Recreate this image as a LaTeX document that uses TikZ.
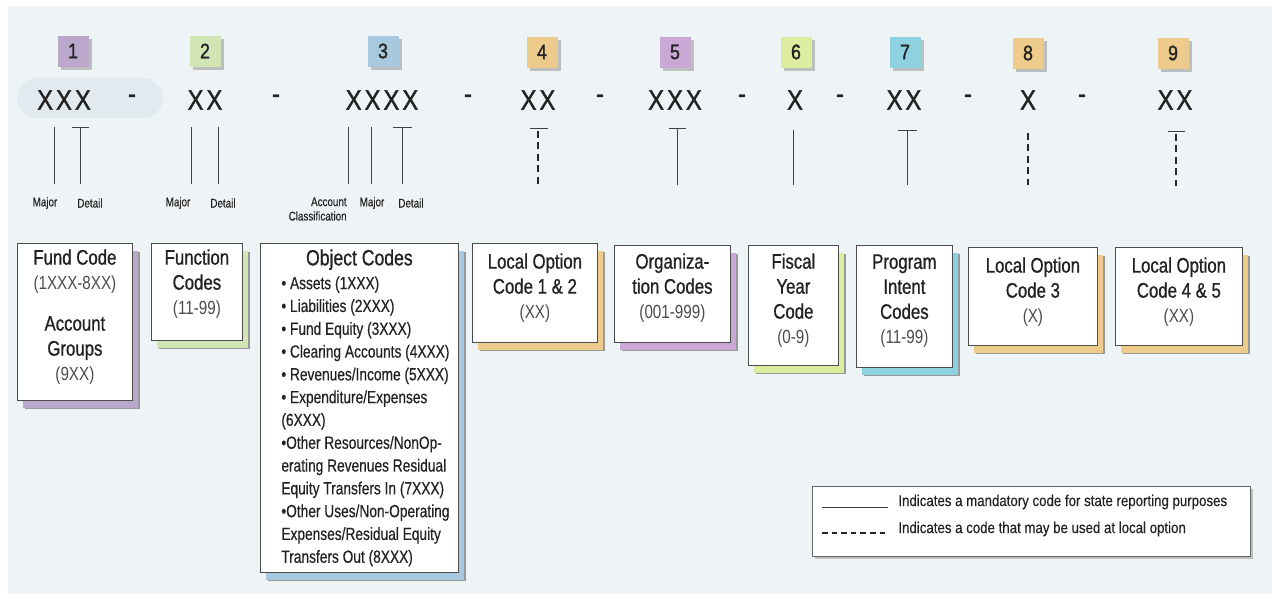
\documentclass[tikz,border=0pt]{standalone}
\usepackage{fontspec}
\setmainfont{Liberation Sans}
\newfontfamily\narrowfont{Liberation Sans}[FakeStretch=0.8]
\newfontfamily\headfont{Liberation Sans}[FakeStretch=0.8,FakeBold=0.8]
\newfontfamily\itemfont{Liberation Sans}[FakeStretch=0.78,FakeBold=0.4]
\newfontfamily\digitfont{Liberation Sans}[FakeStretch=0.85,FakeBold=1.2]
\newfontfamily\legendfont{Liberation Sans}[FakeStretch=0.85,FakeBold=0.3]
\usetikzlibrary{positioning,shadows}

\definecolor{bgcol}{HTML}{EEF4F5}
\definecolor{pillcol}{HTML}{E2EAF0}
\definecolor{purp}{HTML}{BBA6CC}
\definecolor{pinkish}{HTML}{C9A8D5}
\definecolor{sage}{HTML}{D2E5B4}
\definecolor{lime}{HTML}{DCEDA0}
\definecolor{sky}{HTML}{A9C9E0}
\definecolor{aqua}{HTML}{8ED2E2}
\definecolor{sand}{HTML}{EDCB8C}
\definecolor{ink}{HTML}{222222}

\newcommand{\rng}[1]{{\narrowfont\fontsize{9.5}{12.5}\selectfont\color{black!70}#1}}

\tikzstyle{numbox} = [minimum size=15.5pt, inner sep=0pt, text=ink,
                      font=\digitfont\fontsize{10.5}{12}\selectfont,
                      drop shadow={shadow xshift=1.5pt,shadow yshift=-1.5pt,
                                   fill=black!45}]
\tikzstyle{digits} = [inner sep=0pt, text=ink,
                      font=\digitfont\fontsize{14}{16}\selectfont]
\tikzstyle{tick}   = [draw=black!75, line width=0.45pt]
\tikzstyle{opt}    = [draw=black!85, line width=1pt, dash pattern=on 3.5pt off 2.2pt]
\tikzstyle{tiny}   = [inner sep=0pt, text=ink, font=\itemfont\fontsize{6.3}{7.2}\selectfont]
\tikzstyle{title}  = [align=center, inner sep=0pt, text=ink,
                      font=\headfont\fontsize{10.5}{12.5}\selectfont]
\tikzstyle{items}  = [align=left, inner sep=0pt, text=ink,
                      font=\itemfont\fontsize{8.8}{11.4}\selectfont]
\tikzstyle{legtext}= [inner sep=0pt, anchor=west, text=ink,
                      font=\legendfont\fontsize{7.8}{9}\selectfont]
\tikzset{card/.style={anchor=north west, draw=black!70, fill=white,
                      line width=0.4pt, inner sep=0pt,
                      general shadow={fill=black!40,shadow xshift=3.6pt,shadow yshift=-4.4pt},
                      general shadow={fill=#1,shadow xshift=3pt,shadow yshift=-3.8pt}}}

\begin{document}
\begin{tikzpicture}[x=0.5pt,y=-0.5pt]
  \useasboundingbox (0,0) rectangle (1276,594);
  \fill[bgcol] (8,6) rectangle (1272,594);
  \fill[pillcol,rounded corners=10pt] (17,78) rectangle (163,118);

  % number tags
  \node[numbox,fill=purp]    at (73,51)   (n1) {1};
  \node[numbox,fill=sage]    at (205,51)  (n2) {2};
  \node[numbox,fill=sky]     at (383,51)  (n3) {3};
  \node[numbox,fill=sand]    at (542,52)  (n4) {4};
  \node[numbox,fill=pinkish] at (675,52)  (n5) {5};
  \node[numbox,fill=lime]    at (796,52)  (n6) {6};
  \node[numbox,fill=aqua]    at (905,52)  (n7) {7};
  \node[numbox,fill=sand]    at (1028,53) (n8) {8};
  \node[numbox,fill=sand]    at (1173,53) (n9) {9};

  % code pattern
  \node[digits] at (64,100)   (c1) {X\kern1.5pt X\kern1.5pt X};
  \node[digits] at (205,100)  (c2) {X\kern1.5pt X};
  \node[digits] at (382,100)  (c3) {X\kern1.5pt X\kern1.5pt X\kern1.5pt X};
  \node[digits] at (538,100)  (c4) {X\kern1.5pt X};
  \node[digits] at (675,100)  (c5) {X\kern1.5pt X\kern1.5pt X};
  \node[digits] at (795,100)  (c6) {X};
  \node[digits] at (904,100)  (c7) {X\kern1.5pt X};
  \node[digits] at (1028,100) (c8) {X};
  \node[digits] at (1175,100) (c9) {X\kern1.5pt X};
  \foreach \p [count=\i] in {132,276,468,600,742,840,968,1082}
    \node[digits] at (\p,99) (dash\i) {-};

  % marker lines
  \draw[tick] (54,127) -- (54,184);
  \draw[tick] (72,127) -- (89,127) (80,127) -- (80,184);
  \draw[tick] (191,127) -- (191,184);
  \draw[tick] (218,127) -- (218,184);
  \draw[tick] (348,127) -- (348,184);
  \draw[tick] (371,127) -- (371,184);
  \draw[tick] (393,127) -- (412,127) (402,127) -- (402,184);
  \draw[tick] (530,128) -- (548,128);
  \draw[opt]  (538,131) -- (538,185);
  \draw[tick] (669,128) -- (686,128) (677,128) -- (677,185);
  \draw[tick] (793,130) -- (793,185);
  \draw[tick] (898,130) -- (917,130) (907,130) -- (907,185);
  \draw[opt]  (1028,133) -- (1028,185);
  \draw[tick] (1168,131) -- (1185,131);
  \draw[opt]  (1176,134) -- (1176,186);

  \node[tiny] at (45,203)  (maj1) {Major};
  \node[tiny] at (90,203)  (det1) {Detail};
  \node[tiny] at (178,203) (maj2) {Major};
  \node[tiny] at (223,203) (det2) {Detail};
  \node[tiny,align=right,anchor=north east] at (347,197) (acc3) {Account\\Classification};
  \node[tiny] at (372,203) (maj3) {Major};
  \node[tiny] at (411,203) (det3) {Detail};

  % code cards
  \node[card=purp,minimum width=57.5pt,minimum height=78.5pt] at (17,243) (fund) {};
  \node[title,below=3pt of fund.north] (fundtxt)
    {Fund Code\\\rng{(1XXX-8XX)}\\[8pt]Account\\Groups\\\rng{(9XX)}};

  \node[card=sage,minimum width=45.5pt,minimum height=48.5pt] at (151,243) (func) {};
  \node[title,below=3pt of func.north] (functxt) {Function\\Codes\\\rng{(11-99)}};

  \node[card=sky,minimum width=99pt,minimum height=164.5pt] at (260,243) (obj) {};
  \node[title,font=\headfont\fontsize{11}{13}\selectfont,below=3pt of obj.north] (objtxt)
    {Object Codes};
  \node[items,anchor=north west] at (281,276) (objlist)
    {\textbullet\ Assets (1XXX)\\
     \textbullet\ Liabilities (2XXX)\\
     \textbullet\ Fund Equity (3XXX)\\
     \textbullet\ Clearing Accounts (4XXX)\\
     \textbullet\ Revenues/Income (5XXX)\\
     \textbullet\ Expenditure/Expenses\\
     (6XXX)\\
     \textbullet Other Resources/NonOp-\\
     erating Revenues Residual\\
     Equity Transfers In (7XXX)\\
     \textbullet Other Uses/Non-Operating\\
     Expenses/Residual Equity\\
     Transfers Out (8XXX)};

  \node[card=sand,minimum width=62.5pt,minimum height=49.5pt] at (472,243) (loc12) {};
  \node[title,below=5pt of loc12.north] (loc12txt) {Local Option\\Code 1 \& 2\\\rng{(XX)}};

  \node[card=pinkish,minimum width=58pt,minimum height=48.5pt] at (614,245) (org) {};
  \node[title,below=4pt of org.north] (orgtxt) {Organiza-\\tion Codes\\\rng{(001-999)}};

  \node[card=lime,minimum width=45pt,minimum height=60pt] at (748,245) (fisc) {};
  \node[title,below=4pt of fisc.north] (fisctxt) {Fiscal\\Year\\Code\\\rng{(0-9)}};

  \node[card=aqua,minimum width=48pt,minimum height=61pt] at (856,245) (prog) {};
  \node[title,below=4.5pt of prog.north] (progtxt) {Program\\Intent\\Codes\\\rng{(11-99)}};

  \node[card=sand,minimum width=64.5pt,minimum height=49pt] at (968,247) (loc3) {};
  \node[title,below=5pt of loc3.north] (loc3txt) {Local Option\\Code 3\\\rng{(X)}};

  \node[card=sand,minimum width=63.5pt,minimum height=49pt] at (1115,247) (loc45) {};
  \node[title,below=5pt of loc45.north] (loc45txt) {Local Option\\Code 4 \& 5\\\rng{(XX)}};

  % legend
  \node[anchor=north west,draw=black!60,fill=white,line width=0.4pt,
        minimum width=219pt,minimum height=35pt,inner sep=0pt,
        drop shadow={shadow xshift=1.5pt,shadow yshift=-1.5pt,fill=black!45}]
        at (812,486) (legend) {};
  \draw[tick] (822,507) -- (888,507);
  \draw[opt,line width=1.1pt,dash pattern=on 2.8pt off 2pt] (822,533) -- (888,533);
  \node[legtext] at (898,502) (leg1) {Indicates a mandatory code for state reporting purposes};
  \node[legtext] at (898,529) (leg2) {Indicates a code that may be used at local option};
\end{tikzpicture}
\end{document}
